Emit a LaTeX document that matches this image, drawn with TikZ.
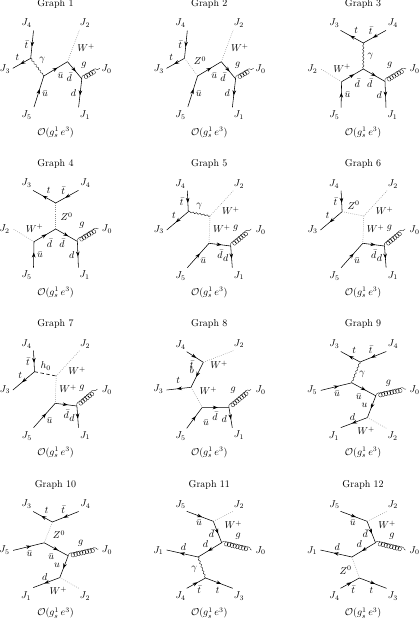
\documentclass[tikz,border=0pt]{standalone}
\usetikzlibrary{decorations.markings,decorations.pathmorphing,arrows.meta}
\tikzset{
  ferm/.style={line width=0.55pt,postaction={decorate},decoration={markings,mark=at position 0.58 with {\arrow{Stealth[length=5pt,width=3.6pt]}}}},
  wboson/.style={line width=0.5pt,black!45,dash pattern=on 0.7pt off 1.4pt},
  hboson/.style={line width=0.6pt,dash pattern=on 3.5pt off 2.5pt},
  photon/.style={line width=0.35pt,decorate,decoration={snake,amplitude=0.7pt,segment length=3.6pt}},
  gluon/.style={line width=0.3pt,decorate,decoration={coil,aspect=1.1,amplitude=2.3pt,segment length=2.9pt}},
  lab/.style={inner sep=0pt,outer sep=0pt,font=\normalsize},
}
\newcommand{\gframe}[2]{%
  \node[lab] (title) at (55.5,#1) {Graph #2};
  \node[lab] (order) at (55.5,#1+128.5) {$\mathcal{O}(g_s^1\,e^3)$};
}
% vertices/labels of graphs 1 and 2
\newcommand{\gOneTwo}{%
  \coordinate (e4) at (33.5,30.7); \coordinate (v1) at (30.7,58.3); \coordinate (e3) at (12.8,68.3);
  \coordinate (a) at (43.8,76); \coordinate (e5) at (34,107); \coordinate (v2) at (67.5,61.7);
  \coordinate (v3) at (81.8,78.8); \coordinate (e1) at (78.6,107.3); \coordinate (e0) at (99.8,68.3);
  \coordinate (e2) at (79.4,30);
  \draw[ferm] (e4) -- (v1); \draw[ferm] (v1) -- (e3); \draw[ferm] (e5) -- (a);
  \draw[ferm] (a) -- (v2); \draw[ferm] (v2) -- (v3); \draw[ferm] (v3) -- (e1);
  \draw[wboson] (v2) -- (e2); \draw[gluon] (v3) -- (e0);
  \node[lab] (J4) at (26.7,23) {$J_4$}; \node[lab] (J2) at (85,23) {$J_2$};
  \node[lab] (J3) at (5,69) {$J_3$}; \node[lab] (J0) at (106.7,69) {$J_0$};
  \node[lab] (J5) at (26.7,115) {$J_5$}; \node[lab] (J1) at (85,115) {$J_1$};
  \node[lab] (lt1) at (26.5,45) {$\bar t$}; \node[lab] (lt2) at (17.5,57.3) {$t$};
  \node[lab] (lw) at (86,48) {$W^+$}; \node[lab] (lg) at (84,65) {$g$};
  \node[lab] (lu1) at (60.5,76) {$\bar u$}; \node[lab] (ld1) at (69.3,77.3) {$\bar d$};
  \node[lab] (lu2) at (45,93.3) {$\bar u$}; \node[lab] (ld2) at (73.4,93.3) {$d$};
}
% graphs 5 and 6
\newcommand{\gFiveSix}{%
  \coordinate (e4) at (33.5,30.7); \coordinate (v1) at (34.5,51.7); \coordinate (e3) at (12.9,70);
  \coordinate (w) at (56.2,56); \coordinate (e2) at (79.5,30.7); \coordinate (a) at (55.2,83.3);
  \coordinate (e5) at (33.5,107.7); \coordinate (b) at (76.9,86); \coordinate (e1) at (78.5,107.7);
  \coordinate (e0) at (97.5,69);
  \draw[ferm] (e4) -- (v1); \draw[ferm] (v1) -- (e3); \draw[ferm] (e5) -- (a);
  \draw[ferm] (a) -- (b); \draw[ferm] (b) -- (e1);
  \draw[wboson] (w) -- (e2); \draw[wboson] (w) -- (a); \draw[gluon] (b) -- (e0);
  \node[lab] (J4) at (26.5,24.3) {$J_4$}; \node[lab] (J2) at (85.2,24.3) {$J_2$};
  \node[lab] (J3) at (5,69.5) {$J_3$}; \node[lab] (J0) at (106.9,70) {$J_0$};
  \node[lab] (J5) at (26.9,116) {$J_5$}; \node[lab] (J1) at (85.2,115.5) {$J_1$};
  \node[lab] (lt1) at (27.9,41.7) {$\bar t$}; \node[lab] (lt2) at (20.2,55) {$t$};
  \node[lab] (lw1) at (77,51) {$W^+$}; \node[lab] (lw2) at (68,69) {$W^+$};
  \node[lab] (lg) at (81.9,68.3) {$g$};
  \node[lab] (ld1) at (66.2,94.3) {$\bar d$}; \node[lab] (ld2) at (71.9,97.7) {$d$};
  \node[lab] (lu) at (49.5,100.7) {$\bar u$};
}
% graphs 11 and 12
\newcommand{\gElevenTwelve}{%
  \coordinate (e5) at (32.9,31.3); \coordinate (v1) at (59.5,41.3); \coordinate (e2) at (79.5,31.3);
  \coordinate (v2) at (67.9,62.7); \coordinate (e0) at (97.9,70); \coordinate (v3) at (44.3,77);
  \coordinate (e1) at (12.9,70); \coordinate (v4) at (51.8,98); \coordinate (e4) at (32.9,108.3);
  \coordinate (e3) at (78.9,108.3);
  \draw[ferm] (e5) -- (v1); \draw[ferm] (v1) -- (v2); \draw[ferm] (v2) -- (v3);
  \draw[ferm] (v3) -- (e1); \draw[ferm] (e4) -- (v4); \draw[ferm] (v4) -- (e3);
  \draw[wboson] (v1) -- (e2); \draw[gluon] (v2) -- (e0);
  \node[lab] (J5) at (26.9,24.7) {$J_5$}; \node[lab] (J2) at (85.2,24.7) {$J_2$};
  \node[lab] (J1) at (4.5,70.7) {$J_1$}; \node[lab] (J0) at (106.9,70.7) {$J_0$};
  \node[lab] (J4) at (26.9,116.3) {$J_4$}; \node[lab] (J3) at (85.2,116.3) {$J_3$};
  \node[lab] (lu) at (45.2,43) {$\bar u$}; \node[lab] (lw) at (79.5,44.7) {$W^+$};
  \node[lab] (ld1) at (57.7,53.5) {$\bar d$}; \node[lab] (lg) at (84.3,56.7) {$g$};
  \node[lab] (ld2) at (51.7,64) {$d$}; \node[lab] (ld3) at (29.6,66.7) {$d$};
  \node[lab] (lt1) at (45.5,110) {$\bar t$}; \node[lab] (lt2) at (63.9,110) {$t$};
}
% graphs 3 and 4
\newcommand{\gThreeFour}{%
  \coordinate (e3) at (33,30.4); \coordinate (v1) at (55.7,43); \coordinate (e4) at (78.4,30.4);
  \coordinate (m) at (55.7,69); \coordinate (l) at (34,81.7); \coordinate (r) at (77.4,81.4);
  \coordinate (e5) at (33.5,107.5); \coordinate (e1) at (78.4,107.5); \coordinate (e0) at (98.4,68.6);
  \coordinate (e2) at (12.5,68.6);
  \draw[ferm] (e4) -- (v1); \draw[ferm] (v1) -- (e3); \draw[ferm] (e5) -- (l);
  \draw[ferm] (l) -- (m); \draw[ferm] (m) -- (r); \draw[ferm] (r) -- (e1);
  \draw[wboson] (l) -- (e2); \draw[gluon] (r) -- (e0);
  \node[lab] (J3) at (26.7,23) {$J_3$}; \node[lab] (J4) at (85.3,23) {$J_4$};
  \node[lab] (J2) at (4.7,69) {$J_2$}; \node[lab] (J0) at (107,69) {$J_0$};
  \node[lab] (J5) at (26.7,115) {$J_5$}; \node[lab] (J1) at (84.7,115) {$J_1$};
  \node[lab] (lt1) at (48.7,30.7) {$t$}; \node[lab] (lt2) at (63.1,30.7) {$\bar t$};
  \node[lab] (lw) at (34.5,68.3) {$W^+$}; \node[lab] (lg) at (82,65.7) {$g$};
  \node[lab] (ld1) at (49.5,83.3) {$\bar d$}; \node[lab] (ld2) at (62,83.3) {$\bar d$};
  \node[lab] (lu) at (40,94.7) {$\bar u$}; \node[lab] (ld3) at (71.7,95.5) {$d$};
}
% graphs 9 and 10
\newcommand{\gNineTen}{%
  \coordinate (e3) at (33.2,31.5); \coordinate (v1) at (52.4,42); \coordinate (e4) at (78.7,31.5);
  \coordinate (v2) at (44.2,62.8); \coordinate (e5) at (13.2,70.4); \coordinate (v3) at (68.2,75.8);
  \coordinate (e0) at (98.4,69); \coordinate (v4) at (59.8,97.6); \coordinate (e1) at (33.2,107.6);
  \coordinate (e2) at (78.8,108.3);
  \draw[ferm] (e4) -- (v1); \draw[ferm] (v1) -- (e3); \draw[ferm] (e5) -- (v2);
  \draw[ferm] (v2) -- (v3); \draw[ferm] (v3) -- (v4); \draw[ferm] (v4) -- (e1);
  \draw[wboson] (v4) -- (e2); \draw[gluon] (v3) -- (e0);
  \node[lab] (J3) at (26.7,24.3) {$J_3$}; \node[lab] (J4) at (85.4,24.3) {$J_4$};
  \node[lab] (J5) at (4.5,70) {$J_5$}; \node[lab] (J0) at (107,70.3) {$J_0$};
  \node[lab] (J1) at (26.2,116) {$J_1$}; \node[lab] (J2) at (85,116) {$J_2$};
  \node[lab] (lt1) at (46.6,30.3) {$t$}; \node[lab] (lt2) at (63.2,30) {$\bar t$};
  \node[lab] (lg) at (80.8,63.3) {$g$}; \node[lab] (lu1) at (29.5,73.7) {$\bar u$};
  \node[lab] (lu2) at (51.2,76.5) {$\bar u$}; \node[lab] (lu3) at (57,85.7) {$u$};
  \node[lab] (ld) at (44.8,97) {$d$}; \node[lab] (lw) at (58.4,110.7) {$W^+$};
}
\begin{document}
\begin{tikzpicture}[x=1pt,y=-1pt]
\useasboundingbox (0,0) rectangle (419,619);

\begin{scope}[shift={(0,0)},name prefix=g1-]
  \gframe{4}{1} \gOneTwo
  \draw[photon] (v1) -- (a);
  \node[lab] (lb) at (42.3,60.7) {$\gamma$};
\end{scope}
\begin{scope}[shift={(153.8,0)},name prefix=g2-]
  \gframe{4}{2} \gOneTwo
  \draw[wboson] (v1) -- (a);
  \node[lab] (lb) at (46.2,60.7) {$Z^0$};
\end{scope}
\begin{scope}[shift={(307.6,0)},name prefix=g3-]
  \gframe{4}{3} \gThreeFour
  \draw[photon] (v1) -- (m);
  \node[lab] (lb) at (63,56) {$\gamma$};
\end{scope}

\begin{scope}[shift={(0,160)},name prefix=g4-]
  \gframe{4}{4} \gThreeFour
  \draw[wboson] (v1) -- (m);
  \node[lab] (lb) at (66.7,56.7) {$Z^0$};
\end{scope}
\begin{scope}[shift={(153.8,160)},name prefix=g5-]
  \gframe{4}{5} \gFiveSix
  \draw[photon] (v1) -- (w);
  \node[lab] (lb) at (45.5,46) {$\gamma$};
\end{scope}
\begin{scope}[shift={(307.6,160)},name prefix=g6-]
  \gframe{4}{6} \gFiveSix
  \draw[wboson] (v1) -- (w);
  \node[lab] (lb) at (46,45.5) {$Z^0$};
\end{scope}

\begin{scope}[shift={(0,320)},name prefix=g7-]
  \gframe{4}{7} \gFiveSix
  \draw[hboson] (v1) -- (w);
  \node[lab] (lb) at (45.7,46) {$h_0$};
\end{scope}
\begin{scope}[shift={(153.8,320)},name prefix=g8-]
  \gframe{4}{8}
  \coordinate (e4) at (32.9,31.7); \coordinate (v1) at (49.5,42.3); \coordinate (v2) at (37.2,67.3);
  \coordinate (e3) at (12.9,70); \coordinate (e2) at (79.5,30.7); \coordinate (v3) at (48.5,87.3);
  \coordinate (e5) at (32.9,108.3); \coordinate (v4) at (75.2,87.7); \coordinate (e1) at (78.5,107.7);
  \coordinate (e0) at (97.2,69.3);
  \draw[ferm] (e4) -- (v1); \draw[ferm] (v1) -- (v2); \draw[ferm] (v2) -- (e3);
  \draw[ferm] (e5) -- (v3); \draw[ferm] (v3) -- (v4); \draw[ferm] (v4) -- (e1);
  \draw[wboson] (v1) -- (e2); \draw[wboson] (v2) -- (v3); \draw[gluon] (v4) -- (e0);
  \node[lab] (J4) at (26.9,25) {$J_4$}; \node[lab] (J2) at (85.2,23.5) {$J_2$};
  \node[lab] (J3) at (4.5,69.3) {$J_3$}; \node[lab] (J0) at (106.9,70) {$J_0$};
  \node[lab] (J5) at (26.9,116) {$J_5$}; \node[lab] (J1) at (85.2,115) {$J_1$};
  \node[lab] (lt1) at (37.9,44.5) {$\bar t$}; \node[lab] (lb) at (37.9,50.5) {$b$};
  \node[lab] (lw1) at (65.2,45) {$W^+$}; \node[lab] (lt2) at (24.5,60.7) {$t$};
  \node[lab] (lw2) at (54.5,70.7) {$W^+$}; \node[lab] (lg) at (79.5,70) {$g$};
  \node[lab] (ld1) at (61.2,96) {$\bar d$}; \node[lab] (ld2) at (70.5,99.3) {$d$};
  \node[lab] (lu) at (52.2,102.7) {$\bar u$};
\end{scope}
\begin{scope}[shift={(307.6,320)},name prefix=g9-]
  \gframe{4}{9} \gNineTen
  \draw[photon] (v1) -- (v2);
  \node[lab] (lb) at (54.7,54) {$\gamma$};
\end{scope}

\begin{scope}[shift={(0,480)},name prefix=g10-]
  \gframe{4.5}{10} \gNineTen
  \draw[wboson] (v1) -- (v2);
  \node[lab] (lb) at (59,54.7) {$Z^0$};
\end{scope}
\begin{scope}[shift={(153.8,480)},name prefix=g11-]
  \gframe{4.5}{11} \gElevenTwelve
  \draw[photon] (v3) -- (v4);
  \node[lab] (lb) at (40.5,89) {$\gamma$};
\end{scope}
\begin{scope}[shift={(307.6,480)},name prefix=g12-]
  \gframe{4.5}{12} \gElevenTwelve
  \draw[wboson] (v3) -- (v4);
  \node[lab] (lb) at (38,90) {$Z^0$};
\end{scope}
\end{tikzpicture}
\end{document}
